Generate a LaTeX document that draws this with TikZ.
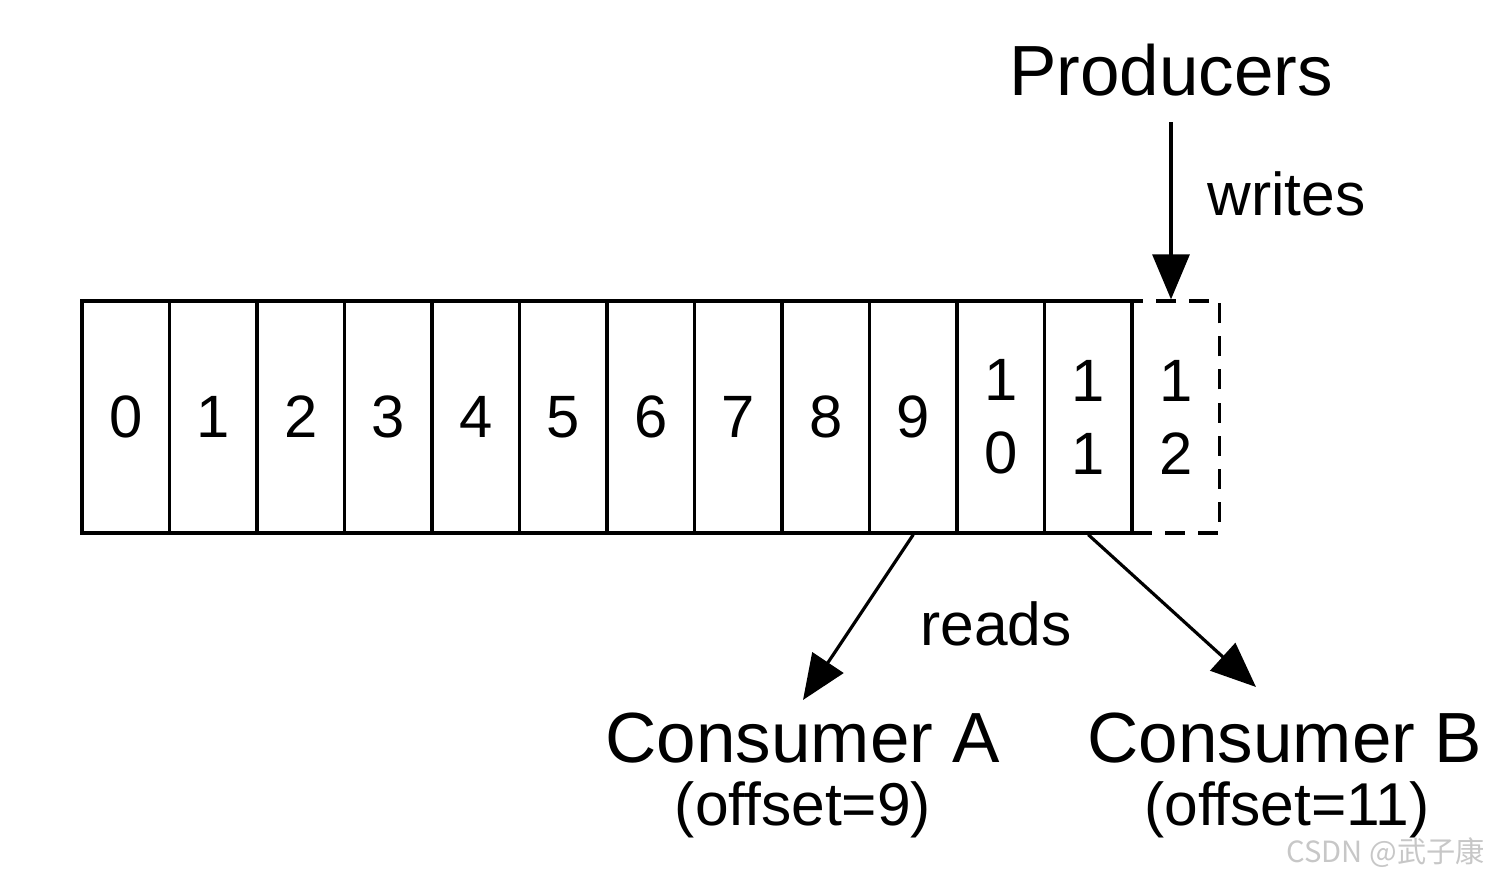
\documentclass[tikz,border=0pt]{standalone}
\usepackage{fontspec}
\setmainfont{Liberation Sans}
\newfontfamily\cjk{Noto Sans CJK SC}
\usepackage{xcolor}
\usetikzlibrary{arrows.meta}

\begin{document}
\begin{tikzpicture}[x=0.01cm, y=-0.01cm,
  cellnode/.style={rectangle, draw, line width=0.9pt, minimum width=0.875cm, minimum height=2.32cm, inner sep=0pt, align=center, font=\fontsize{17}{20.8}\selectfont},
  bigtext/.style={font=\fontsize{20.2}{24}\selectfont},
  smalltext/.style={font=\fontsize{17.2}{20}\selectfont},
  arrowline/.style={line width=0.9pt, -{Triangle[length=0.45cm, width=0.37cm]}}]
\useasboundingbox (0,0) rectangle (1500,869);

% the log
\node[cellnode] (c0) at (125.75, 417) {0};
\node[cellnode] (c1) at (213.25, 417) {1};
\node[cellnode] (c2) at (300.75, 417) {2};
\node[cellnode] (c3) at (388.25, 417) {3};
\node[cellnode] (c4) at (475.75, 417) {4};
\node[cellnode] (c5) at (563.25, 417) {5};
\node[cellnode] (c6) at (650.75, 417) {6};
\node[cellnode] (c7) at (738.25, 417) {7};
\node[cellnode] (c8) at (825.75, 417) {8};
\node[cellnode] (c9) at (913.25, 417) {9};
\node[cellnode] (c10) at (1000.75, 417) {1\\0};
\node[cellnode] (c11) at (1088.25, 417) {1\\1};
\node[cellnode, dash pattern=on 0.2cm off 0.13cm] (c12) at (1175.75, 417) {1\\2};

% producers
\node[bigtext, anchor=base] (prod) at (1171, 95) {Producers};
\node[smalltext, anchor=base west] (writes) at (1195, 215) {writes};
\draw[arrowline, shorten <=0.14cm] (prod.south) -- (prod.south |- c12.north);

% consumers
\node[bigtext, anchor=base] (conA) at (803, 762) {Consumer A};
\node[smalltext, anchor=base] (offA) at (803, 825) {(offset=9)};
\node[bigtext, anchor=base] (conB) at (1285, 762) {Consumer B};
\node[smalltext, anchor=base] (offB) at (1287, 825) {(offset=11)};
\node[smalltext, anchor=base] (reads) at (996, 645) {reads};
\draw[arrowline] (c9.south) -- (conA.north);
\draw[arrowline] (c11.south) -- ([xshift=-0.29cm, yshift=0.13cm]conB.north);

\node[anchor=east, text=black!22, font=\cjk\fontsize{8.3}{10}\selectfont] (mark) at (1497, 853) {CSDN @武子康};

\end{tikzpicture}
\end{document}
